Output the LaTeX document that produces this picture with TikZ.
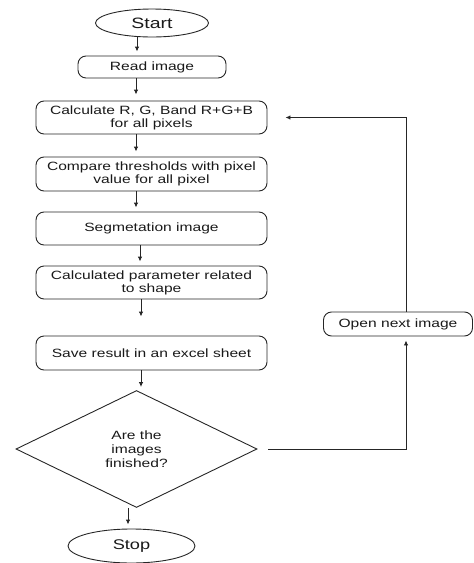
\documentclass[tikz,border=0pt]{standalone}
\usepackage{fontspec}
\setmainfont{Liberation Sans}[FakeStretch=1.3]
\usetikzlibrary{shapes.geometric,arrows.meta}
\begin{document}
\begin{tikzpicture}[x=1pt,y=-1pt,
  line width=0.9pt, draw=black!85,
  base/.style={draw=black!85, line width=0.9pt, inner sep=0pt, align=center,
    font=\fontsize{12}{13}\selectfont, text=black!90},
  proc/.style={base, rectangle, rounded corners=8pt, minimum width=231pt, minimum height=33pt},
  term/.style={base, ellipse},
  decide/.style={base, diamond, shape aspect=2, minimum width=241pt, minimum height=117pt, font=\fontsize{12}{14}\selectfont},
  arr/.style={draw=black!85, line width=0.9pt, -{Latex[length=5pt,width=4.5pt]}}]
\useasboundingbox (0,0) rectangle (474,563);

\node[term, minimum width=113pt, minimum height=28pt, font=\fontsize{15}{16}\selectfont] (start) at (152,23) {Start};
\node[proc, minimum width=148pt, minimum height=22pt] (read) at (152,67) {Read image};
\node[proc] (calc) at (151.5,117.5) {Calculate R, G, Band R+G+B\\for all pixels};
\node[proc, minimum height=34pt] (comp) at (151.5,174) {Compare thresholds with pixel\\value for all pixel};
\node[proc] (seg) at (151.5,228.5) {Segmetation image};
\node[proc] (param) at (151.5,282.5) {Calculated parameter related\\to shape};
\node[proc, minimum height=34pt] (save) at (151.5,353) {Save result in an excel sheet};
\node[decide] (dec) at (136.5,449) {Are the\\images\\finished?};
\node[term, minimum width=127pt, minimum height=34pt, font=\fontsize{14}{15}\selectfont] (stop) at (131.5,546) {Stop};
\node[proc, minimum width=149pt, minimum height=24pt] (open) at (398,324) {Open next image};

\draw[arr, shorten >=4pt] ([xshift=-15pt]start.south) -- ([xshift=-15pt]read.north);
\draw[arr, shorten >=6pt] ([xshift=-16pt]read.south) -- ([xshift=-15.5pt]calc.north);
\draw[arr, shorten >=5pt] ([xshift=-15.5pt]calc.south) -- ([xshift=-15.5pt]comp.north);
\draw[arr, shorten >=4pt] ([xshift=-15.5pt]comp.south) -- ([xshift=-15.5pt]seg.north);
\draw[arr, shorten >=4pt] ([xshift=-11.5pt]seg.south) -- ([xshift=-11.5pt]param.north);
\draw[arr, shorten >=19pt] ([xshift=-10.5pt]param.south) -- ([xshift=-10.5pt]save.north);
\draw[arr, shorten >=3pt] ([xshift=-10.5pt]save.south) -- ([xshift=4.5pt]dec.north);
\draw[arr, shorten >=4pt] ([xshift=-8.5pt]dec.south) -- ([xshift=-3.5pt]stop.north);
\draw[arr, shorten <=11pt, shorten >=4pt] (dec.east) -| ([xshift=8pt]open.south);
\draw[arr, shorten >=18pt] ([xshift=8pt]open.north) |- (calc.east);
\end{tikzpicture}
\end{document}
